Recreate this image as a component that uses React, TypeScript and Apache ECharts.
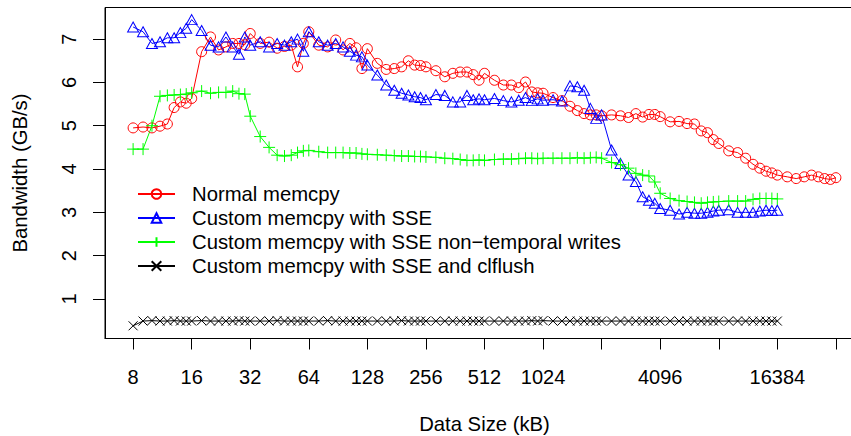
import React, { useEffect, useRef } from "react";
import * as echarts from "echarts";

// Data sizes in kB (x values)
const sizesKB = [
  8, 9, 10, 11, 12, 13, 14, 15,
  16, 18, 20, 22, 24, 26, 28, 30,
  32, 36, 40, 44, 48, 52, 56, 60,
  64, 72, 80, 88, 96, 104, 112, 120,
  128, 144, 160, 176, 192, 208, 224, 240,
  256, 288, 320, 352, 384, 416, 448, 480,
  512, 576, 640, 704, 768, 832, 896, 960,
  1024, 1152, 1280, 1408, 1536, 1664, 1792, 1920,
  2048, 2304, 2560, 2816, 3072, 3328, 3584, 3840,
  4096, 4608, 5120, 5632, 6144, 6656, 7168, 7680,
  8192, 9216, 10240, 11264, 12288, 13312, 14336, 15360,
  16384, 18432, 20480, 22528, 24576, 26624, 28672, 30720,
  32768,
];

const normalMemcpy = [
  4.95, 4.97, 4.95, 4.99, 5.04, 5.42, 5.55, 5.52,
  5.63, 6.71, 7.05, 6.75, 6.82, 6.9, 6.9, 6.87,
  7.13, 6.9, 6.93, 6.79, 6.83, 6.86, 6.36, 6.9,
  7.17, 6.86, 6.82, 6.98, 6.75, 6.9, 6.8, 6.32,
  6.78, 6.44, 6.3, 6.32, 6.36, 6.5, 6.4, 6.39,
  6.36, 6.27, 6.13, 6.21, 6.24, 6.24, 6.18, 6.05,
  6.21, 6.05, 5.94, 5.94, 5.88, 6.01, 5.78, 5.76,
  5.75, 5.65, 5.58, 5.45, 5.35, 5.28, 5.25, 5.25,
  5.23, 5.25, 5.23, 5.19, 5.28, 5.2, 5.26, 5.26,
  5.21, 5.09, 5.1, 5.05, 5.04, 4.88, 4.84, 4.68,
  4.59, 4.42, 4.38, 4.25, 4.11, 4.02, 3.95, 3.91,
  3.86, 3.82, 3.78, 3.82, 3.86, 3.82, 3.78, 3.76,
  3.8,
];

const sseMemcpy = [
  7.28, 7.17, 6.9, 6.94, 7.03, 7.03, 7.15, 7.25,
  7.45, 7.2, 6.86, 6.82, 7.05, 6.82, 6.65, 7.05,
  6.86, 6.94, 6.82, 6.9, 6.86, 6.94, 7.0, 6.72,
  7.17, 6.94, 6.86, 6.9, 6.82, 6.72, 6.63, 6.59,
  6.4, 6.17, 5.94, 5.82, 5.75, 5.71, 5.67, 5.65,
  5.6, 5.72, 5.7, 5.55, 5.55, 5.7, 5.6, 5.62,
  5.6, 5.63, 5.58, 5.55, 5.59, 5.65, 5.58, 5.62,
  5.59, 5.6, 5.57, 5.92, 5.9, 5.82, 5.4, 5.17,
  5.25, 4.44, 4.13, 3.86, 3.71, 3.36, 3.28, 3.21,
  3.09, 3.05, 2.96, 3.0, 2.98, 2.98, 3.0, 3.03,
  3.05, 3.06, 3.0, 3.0, 3.0, 3.03, 3.05, 3.04,
  3.05,
];

const sseNonTemporal = [
  4.46, 4.46, 5.0, 5.68, 5.7, 5.71, 5.72, 5.73,
  5.76, 5.8, 5.75, 5.77, 5.77, 5.8, 5.74, 5.73,
  5.22, 4.75, 4.5, 4.32, 4.3, 4.32, 4.38, 4.42,
  4.43, 4.4, 4.38, 4.38, 4.38, 4.37, 4.37, 4.35,
  4.34, 4.33, 4.32, 4.31, 4.3, 4.3, 4.29, 4.29,
  4.28, 4.27, 4.25, 4.24, 4.22, 4.2, 4.2, 4.21,
  4.2, 4.22, 4.23, 4.23, 4.24, 4.25, 4.25, 4.24,
  4.25, 4.25, 4.25, 4.25, 4.26, 4.25, 4.26, 4.27,
  4.25, 4.15, 4.1, 4.02, 3.9, 3.86, 3.84, 3.7,
  3.44, 3.32, 3.27, 3.25, 3.23, 3.21, 3.23, 3.24,
  3.25, 3.26, 3.26, 3.26, 3.3, 3.32, 3.32, 3.32,
  3.31,
];

const sseClflush = [
  0.38, 0.49, 0.5, 0.49, 0.49, 0.5, 0.49, 0.49,
  0.49, 0.5, 0.49, 0.49, 0.49, 0.49, 0.5, 0.49,
  0.49, 0.49, 0.49, 0.5, 0.49, 0.49, 0.49, 0.49,
  0.49, 0.49, 0.5, 0.49, 0.49, 0.49, 0.49, 0.49,
  0.49, 0.49, 0.49, 0.49, 0.5, 0.49, 0.49, 0.49,
  0.49, 0.49, 0.49, 0.49, 0.49, 0.49, 0.49, 0.49,
  0.49, 0.49, 0.49, 0.49, 0.49, 0.49, 0.5, 0.49,
  0.5, 0.49, 0.49, 0.49, 0.49, 0.49, 0.49, 0.49,
  0.49, 0.49, 0.49, 0.49, 0.49, 0.49, 0.49, 0.49,
  0.49, 0.49, 0.49, 0.49, 0.49, 0.49, 0.49, 0.49,
  0.49, 0.49, 0.49, 0.49, 0.49, 0.49, 0.49, 0.49,
  0.49,
];

const seriesNames = [
  "Normal memcpy",
  "Custom memcpy with SSE",
  "Custom memcpy with SSE non\u2212temporal writes",
  "Custom memcpy with SSE and clflush",
];

const xTickValues = [8, 16, 32, 64, 128, 256, 512, 1024, 2048, 4096, 8192, 16384, 32768];
const xTickLabels = ["8", "16", "32", "64", "128", "256", "512", "1024", "", "4096", "", "16384", ""];
const yTickValues = [1, 2, 3, 4, 5, 6, 7];

const FONT = "'Liberation Sans', Arial, Helvetica, sans-serif";
const FS = 20.3;
const FS_TICK = 20;

const pair = (vals: number[]) => vals.map((v, i) => [sizesKB[i], v]);

export default function App() {
  const ref = useRef<HTMLDivElement>(null);
  useEffect(() => {
    if (!ref.current) return;
    const chart = echarts.init(ref.current, null, { renderer: "svg" });
    const mk = (
      name: string,
      vals: number[],
      color: string,
      symbol: string,
      size: number | number[]
    ) => ({
      type: "line",
      name,
      data: pair(vals),
      symbol,
      symbolSize: size,
      showAllSymbol: true,
      lineStyle: { color, width: 1 },
      itemStyle: { color: "rgba(0,0,0,0)", borderColor: color, borderWidth: 1 },
      emphasis: { disabled: true },
      z: 2,
    });
    const option: any = {
      animation: false,
      textStyle: { fontFamily: FONT },
      grid: {
        left: 105,
        right: -13,
        top: 7.5,
        bottom: 97.5,
        show: true,
        borderColor: "#000",
        borderWidth: 1,
        backgroundColor: "transparent",
        containLabel: false,
        outerBoundsMode: "none",
      },
      legend: {
        orient: "vertical",
        left: 137,
        top: 184,
        itemWidth: 37,
        itemHeight: 12,
        itemGap: 4,
        padding: 0,
        selectedMode: false,
        data: seriesNames,
        textStyle: { fontSize: FS, color: "#000", fontFamily: FONT, padding: [0, 0, 0, 12] },
      },
      xAxis: {
        type: "log",
        logBase: 2,
        min: 5.736,
        max: 45702,
        name: "Data Size (kB)",
        nameLocation: "middle",
        nameGap: 75,
        nameTextStyle: { fontSize: FS, color: "#000", fontFamily: FONT },
        axisLine: { show: true, lineStyle: { color: "#000", width: 1 } },
        axisTick: { show: true, length: 11, customValues: xTickValues, lineStyle: { color: "#000" } },
        axisLabel: {
          customValues: xTickValues,
          fontSize: FS_TICK,
          color: "#000",
          fontFamily: FONT,
          margin: 28,
          formatter: (v: number) => {
            const i = xTickValues.findIndex((t) => Math.abs(t - v) / t < 1e-6);
            return i >= 0 ? xTickLabels[i] : "";
          },
        },
        splitLine: { show: false },
        minorTick: { show: false },
      },
      yAxis: {
        type: "value",
        min: 0.087,
        max: 7.73,
        name: "Bandwidth (GB/s)",
        nameLocation: "middle",
        nameGap: 75,
        nameTextStyle: { fontSize: FS, color: "#000", fontFamily: FONT },
        axisLine: { show: true, lineStyle: { color: "#000", width: 1 } },
        axisTick: { show: true, length: 12, customValues: yTickValues, lineStyle: { color: "#000" } },
        axisLabel: {
          customValues: yTickValues,
          rotate: 90,
          fontSize: FS_TICK,
          color: "#000",
          fontFamily: FONT,
          margin: 26,
          formatter: (v: number) => String(Math.round(v)),
        },
        splitLine: { show: false },
      },
      series: [
        mk(seriesNames[0], normalMemcpy, "#ff0000", "circle", 10),
        mk(seriesNames[1], sseMemcpy, "#0000ff", "triangle", [11, 10]),
        mk(seriesNames[2], sseNonTemporal, "#00ff00", "path://M0,5L10,5M5,0L5,10", 12),
        mk(seriesNames[3], sseClflush, "#000000", "path://M0,0L10,10M0,10L10,0", 9),
      ],
    };
    chart.setOption(option);
    return () => chart.dispose();
  }, []);
  return (
    <div
      ref={ref}
      style={{ position: "absolute", left: 0, top: 0, width: 851, height: 436, background: "#fff" }}
    />
  );
}
